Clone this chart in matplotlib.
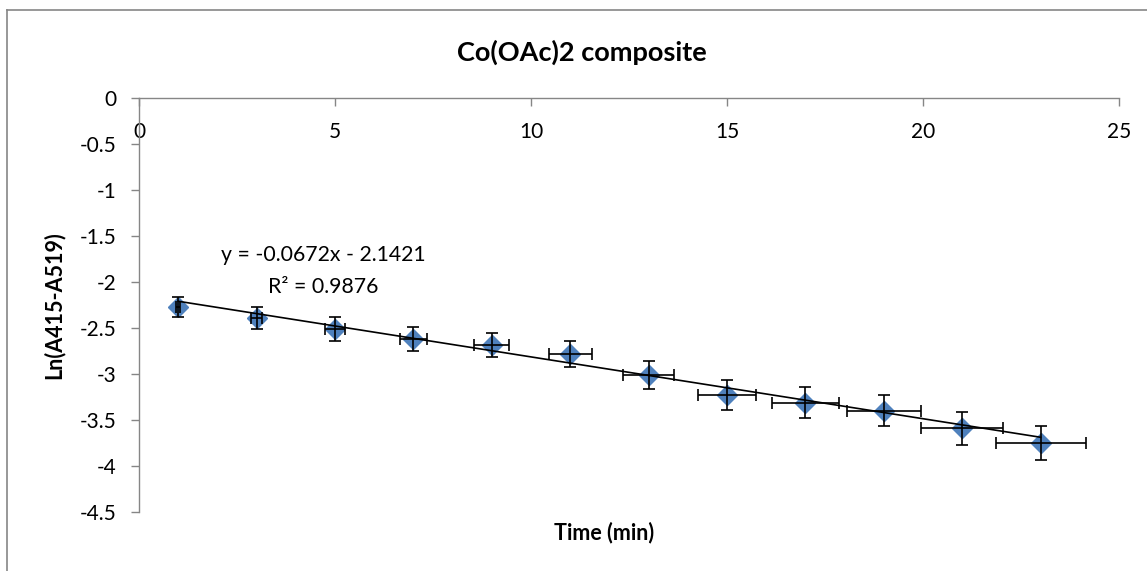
import matplotlib
matplotlib.use("Agg")
import matplotlib.pyplot as plt
from matplotlib.lines import Line2D

plt.rcParams['font.family'] = ['Lato', 'DejaVu Sans']

# data
time_min = [1, 3, 5, 7, 9, 11, 13, 15, 17, 19, 21, 23]
ln_abs = [-2.27, -2.39, -2.51, -2.62, -2.68, -2.78, -3.01, -3.23, -3.31, -3.40, -3.59, -3.75]
y_err = [0.11, 0.12, 0.13, 0.13, 0.13, 0.14, 0.15, 0.16, 0.17, 0.17, 0.18, 0.19]
x_err = [0.05, 0.15, 0.25, 0.35, 0.45, 0.55, 0.65, 0.75, 0.85, 0.95, 1.05, 1.15]
slope = -0.0672
intercept = -2.1421
r_squared = 0.9876
x_ticks = [0, 5, 10, 15, 20, 25]
y_ticks = [0, -0.5, -1, -1.5, -2, -2.5, -3, -3.5, -4, -4.5]

W, H = 1147, 571
fig = plt.figure(figsize=(W / 100, H / 100), dpi=100)
ax = fig.add_axes([139 / W, 1 - 512 / H, (1119 - 139) / W, (512 - 98) / H])

grey = '#868686'

ax.plot(time_min, ln_abs, linestyle='none', marker='D', markersize=10.5,
        color='#4F81BD', zorder=2)
ax.errorbar(time_min, ln_abs, xerr=x_err, yerr=y_err, fmt='none', ecolor='black',
            elinewidth=1.2, capsize=4.5, capthick=1.2, zorder=3)
trend_x = [time_min[0], time_min[-1]]
trend_y = [slope * t + intercept for t in trend_x]
ax.plot(trend_x, trend_y, color='black', linewidth=1.2, zorder=4)

ax.text(4.69, -1.71, 'y = %.4fx - %.4f' % (slope, -intercept), ha='center', va='center',
        fontsize=15.3)
ax.text(4.69, -2.05, 'R\u00b2 = %.4f' % r_squared, ha='center', va='center', fontsize=15.3)

ax.set_xlim(0, 25)
ax.set_ylim(-4.5, 0)
ax.set_xticks(x_ticks)
ax.set_yticks(y_ticks)
ax.set_yticklabels([('%g' % v) for v in y_ticks])

ax.spines['top'].set_visible(False)
ax.spines['right'].set_visible(False)
ax.spines['bottom'].set_position(('data', 0))
for s in ('left', 'bottom'):
    ax.spines[s].set_color(grey)
    ax.spines[s].set_linewidth(1.0)
ax.tick_params(axis='both', direction='out', length=6, width=1.0, color=grey,
               labelsize=15, labelcolor='black')
ax.tick_params(axis='x', pad=11)
ax.tick_params(axis='y', pad=10)

fig.text(582 / W, 1 - 52 / H, 'Co(OAc)2 composite', ha='center', va='center',
         fontsize=19.5, fontweight='bold')
fig.text(604 / W, 1 - 533 / H, 'Time (min)', ha='center', va='center',
         fontsize=15.5, fontweight='bold')
fig.text(54 / W, 1 - 305 / H, 'Ln(A415-A519)', ha='center', va='center',
         rotation=90, fontsize=15.5, fontweight='bold')

# chart area border (only left and top edges show in the crop)
fig.add_artist(Line2D([7 / W, 7 / W], [0, 1 - 10 / H], color=grey, linewidth=1.2))
fig.add_artist(Line2D([7 / W, 1], [1 - 10 / H, 1 - 10 / H], color=grey, linewidth=1.2))

fig.savefig('out.png', dpi=100)
